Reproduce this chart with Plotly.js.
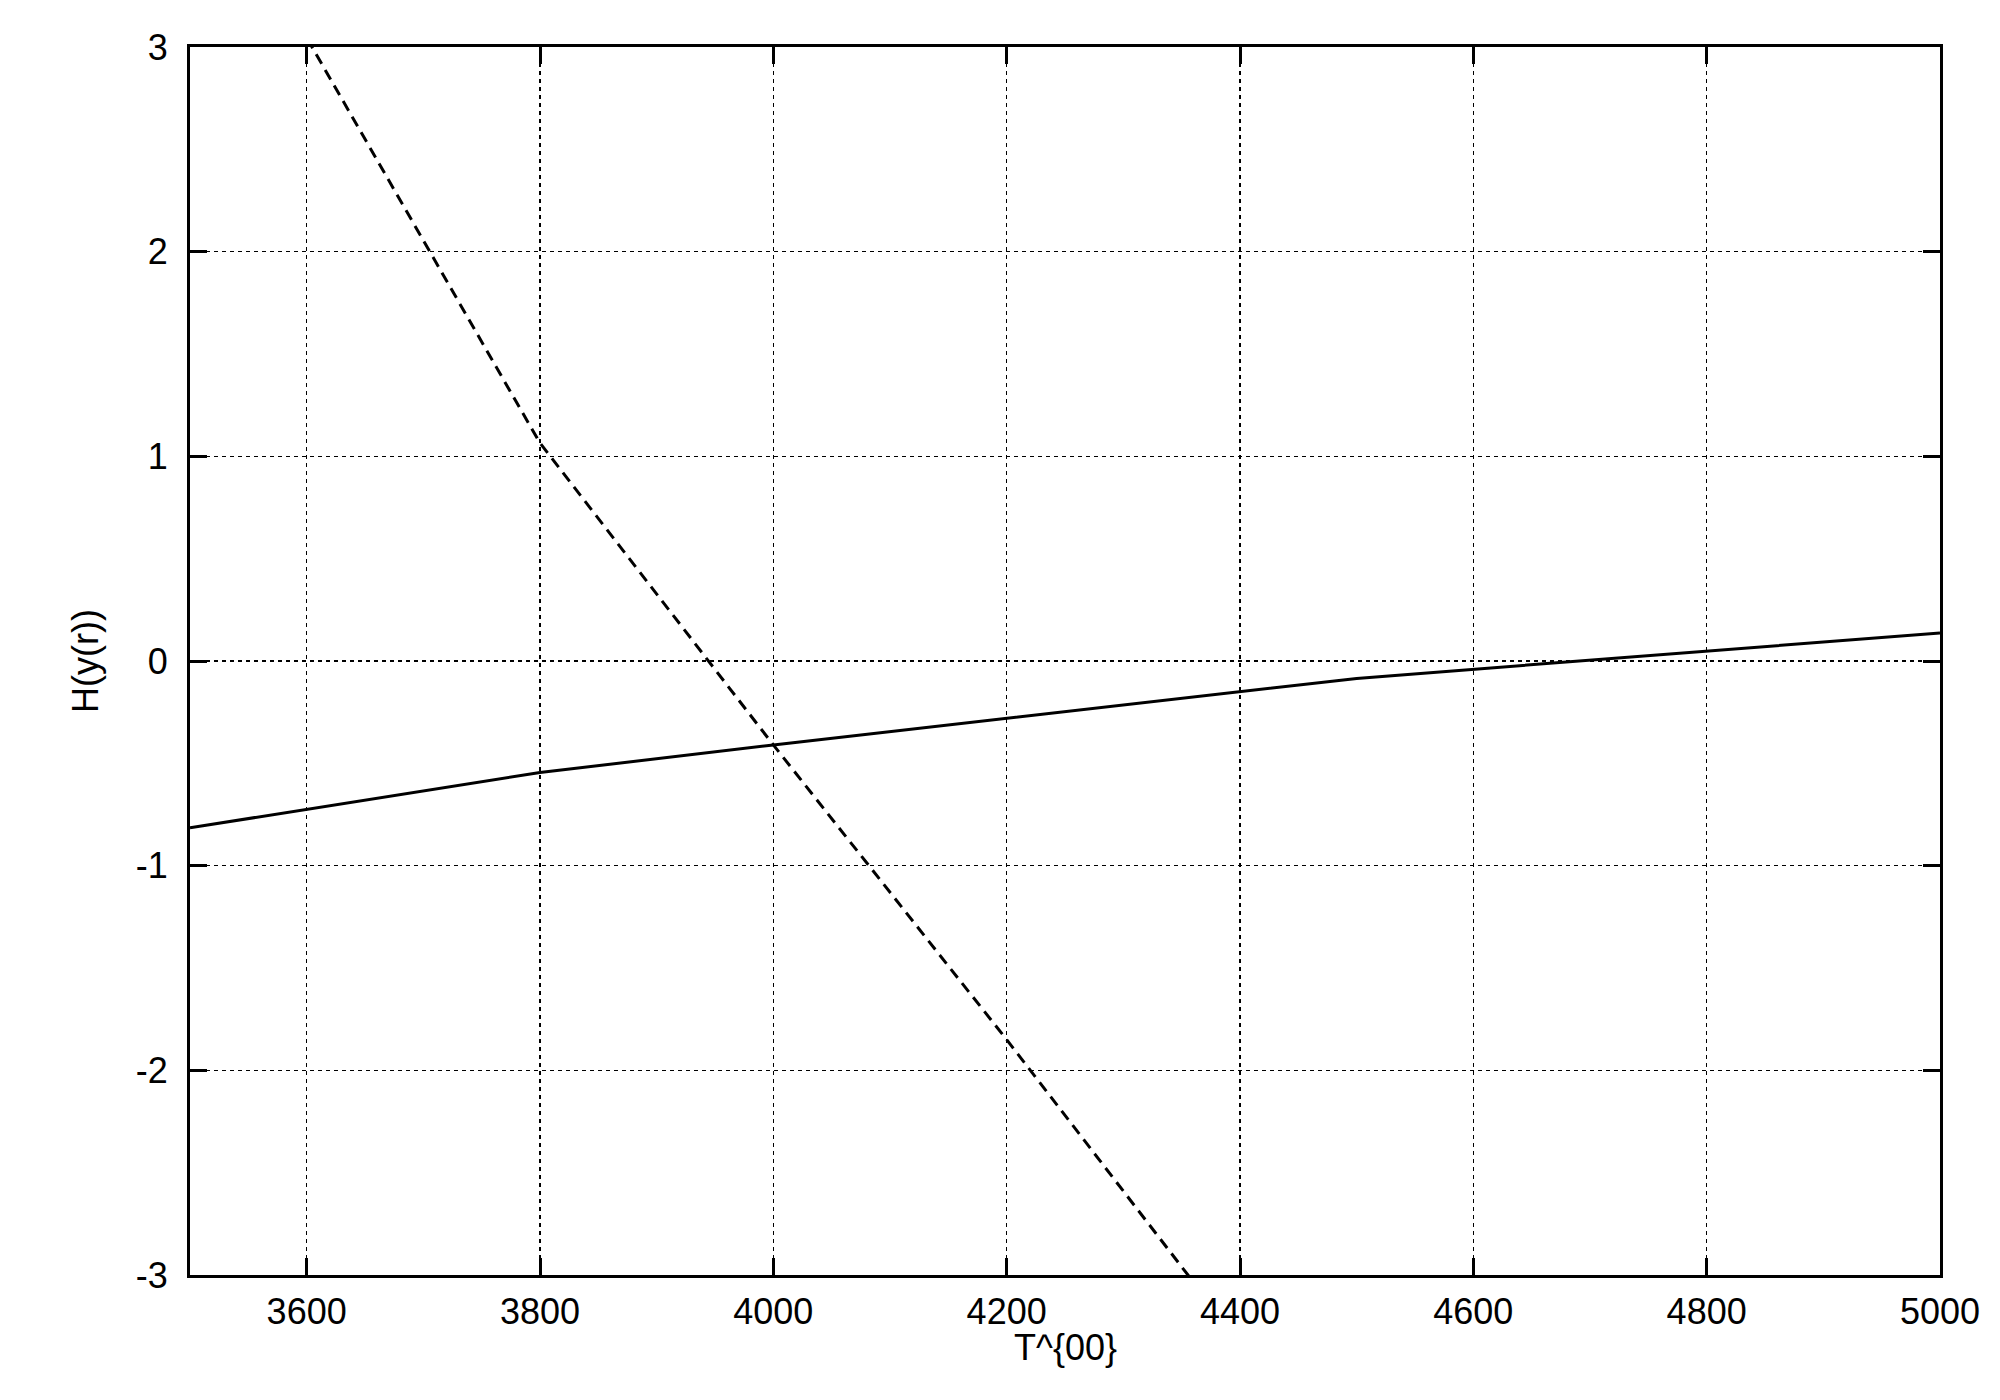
<!DOCTYPE html>
<html>
<head>
<meta charset="utf-8">
<script src="https://cdn.plot.ly/plotly-3.0.1.min.js"></script>
<style>
body { margin: 0; background: #fff; }
#chart { width: 2000px; height: 1400px; }
</style>
</head>
<body>
<div id="chart"></div>
<script>
// values
const solidT = [3500, 3600, 3800, 4000, 4500, 5000]
const solidH = [-0.815, -0.724, -0.545, -0.41, -0.085, 0.137]

const dashedT = [3500, 3600, 3800, 4000, 4200, 4400]
const dashedH = [4.03, 3.045, 1.065, -0.41, -1.85, -3.33]

const xTicks = [3600, 3800, 4000, 4200, 4400, 4600, 4800, 5000]
const yTicks = [-3, -2, -1, 0, 1, 2, 3]

const font = {family: 'Liberation Sans, Arial, sans-serif', size: 36, color: '#000'}

const data = [
  {
    type: 'scatter',
    mode: 'lines',
    x: solidT,
    y: solidH,
    line: {color: '#000', width: 3},
    showlegend: false
  },
  {
    type: 'scatter',
    mode: 'lines',
    x: dashedT,
    y: dashedH,
    line: {color: '#000', width: 3, dash: '11px,7px'},
    showlegend: false
  }
]

const axisStyle = {
  showline: true,
  linecolor: '#000',
  linewidth: 3,
  mirror: 'ticks',
  ticks: 'inside',
  ticklen: 17,
  tickwidth: 3,
  tickcolor: '#000',
  showgrid: true,
  gridcolor: '#000',
  gridwidth: 1.5,
  griddash: '4px,4px',
  zeroline: false,
  tickfont: font
}

const layout = {
  width: 2000,
  height: 1400,
  margin: {l: 190, r: 60, t: 47, b: 125},
  paper_bgcolor: '#fff',
  plot_bgcolor: '#fff',
  font: font,
  xaxis: Object.assign({}, axisStyle, {
    range: [3500, 5000],
    tickvals: xTicks,
    ticktext: xTicks.map(String),
    ticklabelstandoff: 3
  }),
  yaxis: Object.assign({}, axisStyle, {
    range: [-3, 3],
    tickvals: yTicks,
    ticktext: yTicks.map(String),
    ticklabelstandoff: 12,
    title: {text: 'H(y(r))', font: font, standoff: 27}
  }),
  // x title placed by hand, sits tight under the tick labels
  annotations: [{
    text: 'T^{00}',
    xref: 'paper', yref: 'paper',
    x: 0.5, y: 0,
    xanchor: 'center', yanchor: 'top',
    yshift: -50,
    showarrow: false,
    font: font
  }]
}

Plotly.newPlot('chart', data, layout, {staticPlot: true})
</script>
</body>
</html>
